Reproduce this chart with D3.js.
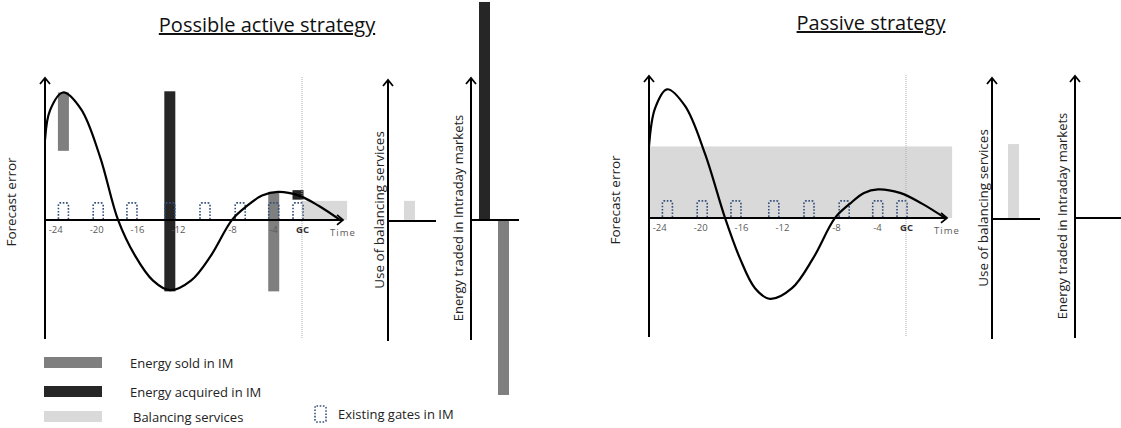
<!DOCTYPE html>
<html><head><meta charset="utf-8">
<script src="https://cdn.jsdelivr.net/npm/d3@7"></script>
<style>body{margin:0;background:#fff;} text{font-family:"Open Sans",sans-serif;}</style>
</head><body><svg id="chart" width="1121" height="428"></svg>
<script>
// ---------------- data ----------------
const tickHours = [-24, -20, -16, -12, -8, -4, 0];
const tickLabels = ["-24", "-20", "-16", "-12", "-8", "-4", "GC"];
const gateHours = [-23.2, -19.8, -16.5, -12.8, -10, -7.2, -3.9, -0.55];

const activeCurveHours = [-25, -24.51, -23.24, -21.48, -19.62, -17.86, -16.2, -14.44, -12.78, -11.04, -9.56, -8, -6.54, -5.07, -3.31, -0.41, 1.66, 3.71];
const activeCurveError = [0.67, 0.92, 1.07, 0.93, 0.53, 0, -0.30, -0.51, -0.59, -0.51, -0.30, 0, 0.117, 0.204, 0.235, 0.204, 0.117, 0];
const passiveCurveHours = [-25, -24.41, -23.24, -21.48, -19.53, -17.57, -16.11, -14.64, -13.17, -11.26, -9.7, -8.07, -6.63, -5.27, -3.86, -0.83, 1.56, 3.8];
const passiveCurveError = [0.6, 0.92, 1.08, 0.94, 0.54, 0, -0.34, -0.59, -0.68, -0.59, -0.34, 0, 0.12, 0.21, 0.24, 0.21, 0.12, 0];

const activeBarHours = [-23.2, -12.8, -3.9, -0.55];
const activeBarTop = [1.07, 1.08, 0.235, 0.25];
const activeBarBottom = [0.58, -0.6, -0.6, 0.17];
const activeBarType = ["sold", "acquired", "sold", "acquired"];

const activeBalancingHours = [0, 4.4];
const activeBalancingLevel = 0.16;
const passiveBalancingHours = [-25, 4.5];
const passiveBalancingLevel = 0.6;

const activeBalancingUse = 0.16;
const passiveBalancingUse = 0.62;
const activeTradedAcquired = 1.83;
const activeTradedSold = -1.47;

const titles = ["Possible active strategy", "Passive strategy"];
const legendLabels = ["Energy sold in IM", "Energy acquired in IM", "Balancing services"];
const legendTypes = ["sold", "acquired", "balancing"];
const gateLegendLabel = "Existing gates in IM";

// ---------------- styles ----------------
const colors = { sold: "#7f7f7f", acquired: "#262626", balancing: "#d9d9d9", gate: "#34507d" };

const svg = d3.select("#chart");
const defs = svg.append("defs");
defs.append("marker").attr("id", "arr").attr("viewBox", "-8 -6 10 12")
  .attr("refX", 0).attr("refY", 0).attr("markerWidth", 10).attr("markerHeight", 12)
  .attr("markerUnits", "userSpaceOnUse").attr("orient", "auto")
  .append("path").attr("d", "M-6,-5L0,0L-6,5").attr("fill", "none")
  .attr("stroke", "#000").attr("stroke-width", 1.8);

const H = 262;
const xs = d3.scaleLinear().domain([-25, -12, -8, -4, 0, 4]).range([0, 133, 187, 228, 257, 298]);
const ys = d3.scaleLinear().domain([-1, 1.2]).range([H, 0]);

function gatePath(cx, y0, w, h) {
  const l = cx - w / 2, r = cx + w / 2, t = y0 - h;
  return `M${l},${y0}L${l},${t + 2}Q${l},${t} ${l + 2},${t}L${r - 2},${t}Q${r},${t} ${r},${t + 2}L${r},${y0}`;
}

function drawPanel(ox, oy, cfg) {
  const g = svg.append("g").attr("transform", `translate(${ox},${oy})`);
  // title
  g.append("text").attr("x", 222).attr("y", -45).attr("text-anchor", "middle")
    .attr("font-size", 20).attr("fill", "#111").attr("text-decoration", "underline").text(cfg.title);
  // forecast error label
  g.append("text").attr("transform", `translate(-34,${125}) rotate(-90)`)
    .attr("text-anchor", "middle").attr("dy", "0.35em").attr("font-size", 13.5).attr("fill", "#222")
    .text("Forecast error");
  // balancing band
  g.append("rect").attr("x", xs(cfg.balHours[0])).attr("width", xs(cfg.balHours[1]) - xs(cfg.balHours[0]))
    .attr("y", ys(cfg.balLevel)).attr("height", ys(0) - ys(cfg.balLevel)).attr("fill", colors.balancing);
  // bars
  g.selectAll(".bar").data(cfg.barHours.map((h, i) => ({ h, top: cfg.barTop[i], bot: cfg.barBottom[i], type: cfg.barType[i] })))
    .join("rect").attr("x", d => xs(d.h) - 5.5).attr("width", 11)
    .attr("y", d => ys(d.top)).attr("height", d => ys(d.bot) - ys(d.top)).attr("fill", d => colors[d.type]);
  // gates
  g.selectAll(".gate").data(gateHours).join("path")
    .attr("d", d => gatePath(xs(d), ys(0) - 1, 10, 16))
    .attr("fill", "none").attr("stroke", colors.gate).attr("stroke-width", 1.6).attr("stroke-dasharray", "1.6,1.6");
  // GC line
  g.append("line").attr("x1", xs(0)).attr("x2", xs(0)).attr("y1", 0).attr("y2", H)
    .attr("stroke", "#b0b0b0").attr("stroke-width", 1).attr("stroke-dasharray", "1,1");
  // axes
  g.append("line").attr("x1", 0).attr("x2", 0).attr("y1", H).attr("y2", 1)
    .attr("stroke", "#000").attr("stroke-width", 2).attr("marker-end", "url(#arr)");
  g.append("line").attr("x1", 0).attr("x2", xs(4)).attr("y1", ys(0)).attr("y2", ys(0))
    .attr("stroke", "#000").attr("stroke-width", 2).attr("marker-end", "url(#arr)");
  // tick labels
  const ax = d3.axisBottom(xs).tickValues(tickHours).tickSize(0).tickPadding(6)
    .tickFormat((d, i) => tickLabels[i]);
  const axg = g.append("g").attr("transform", `translate(0,${ys(0)})`).call(ax);
  axg.select(".domain").remove();
  axg.selectAll("text").attr("font-family", "Open Sans").attr("font-size", 9.5).attr("fill", "#595959")
    .filter(d => d === 0).attr("font-weight", "bold").attr("fill", "#333");
  g.append("text").attr("x", xs(4)).attr("y", ys(0) + 16).attr("text-anchor", "middle")
    .attr("font-size", 9.5).attr("fill", "#595959").attr("letter-spacing", 1).text("Time");
  // curve
  const line = d3.line().x(d => xs(d[0])).y(d => ys(d[1])).curve(d3.curveCatmullRom.alpha(0.5));
  g.append("path").attr("d", line(cfg.curveHours.map((h, i) => [h, cfg.curveError[i]])))
    .attr("fill", "none").attr("stroke", "#000").attr("stroke-width", 2.2);

  // side panel: balancing services
  const bx = 343, ex = 426;
  g.append("line").attr("x1", bx).attr("x2", bx).attr("y1", H + 2).attr("y2", 3)
    .attr("stroke", "#000").attr("stroke-width", 2).attr("marker-end", "url(#arr)");
  g.append("rect").attr("x", bx + 16).attr("width", 11).attr("y", ys(cfg.balUse))
    .attr("height", ys(0) - ys(cfg.balUse)).attr("fill", colors.balancing);
  g.append("line").attr("x1", bx).attr("x2", bx + 48).attr("y1", ys(0) + 1).attr("y2", ys(0) + 1)
    .attr("stroke", "#000").attr("stroke-width", 2);
  g.append("text").attr("transform", `translate(${bx - 9},${133}) rotate(-90)`)
    .attr("text-anchor", "middle").attr("dy", "0.35em").attr("font-size", 13.5).attr("fill", "#222")
    .text("Use of balancing services");
  // side panel: energy traded
  g.append("line").attr("x1", ex).attr("x2", ex).attr("y1", H + 1).attr("y2", 1)
    .attr("stroke", "#000").attr("stroke-width", 2).attr("marker-end", "url(#arr)");
  if (cfg.acquired !== null) {
    g.append("rect").attr("x", ex + 8).attr("width", 11).attr("y", ys(cfg.acquired))
      .attr("height", ys(0) - ys(cfg.acquired)).attr("fill", colors.acquired);
    g.append("rect").attr("x", ex + 27).attr("width", 11).attr("y", ys(0))
      .attr("height", ys(cfg.sold) - ys(0)).attr("fill", colors.sold);
  }
  g.append("line").attr("x1", ex).attr("x2", ex + 48).attr("y1", ys(0)).attr("y2", ys(0))
    .attr("stroke", "#000").attr("stroke-width", 2);
  g.append("text").attr("transform", `translate(${ex - 13},${141}) rotate(-90)`)
    .attr("text-anchor", "middle").attr("dy", "0.35em").attr("font-size", 13).attr("fill", "#222")
    .text("Energy traded in Intraday markets");
}

drawPanel(45, 77, {
  title: titles[0], curveHours: activeCurveHours, curveError: activeCurveError,
  barHours: activeBarHours, barTop: activeBarTop, barBottom: activeBarBottom, barType: activeBarType,
  balHours: activeBalancingHours, balLevel: activeBalancingLevel, balUse: activeBalancingUse,
  acquired: activeTradedAcquired, sold: activeTradedSold
});
drawPanel(649, 75, {
  title: titles[1], curveHours: passiveCurveHours, curveError: passiveCurveError,
  barHours: [], barTop: [], barBottom: [], barType: [],
  balHours: passiveBalancingHours, balLevel: passiveBalancingLevel, balUse: passiveBalancingUse,
  acquired: null, sold: null
});

// legend
const leg = svg.append("g");
const legY = [357, 386, 411];
leg.selectAll("rect").data(legendTypes).join("rect")
  .attr("x", 44).attr("width", 58).attr("y", (d, i) => legY[i]).attr("height", 11)
  .attr("fill", d => colors[d]);
leg.selectAll("text").data(legendLabels).join("text")
  .attr("x", (d, i) => i === 2 ? 133 : 130).attr("y", (d, i) => legY[i] + 6).attr("dy", "0.35em")
  .attr("font-size", 13).attr("fill", "#222").text(d => d);
leg.append("rect").attr("x", 315).attr("y", 406).attr("width", 11).attr("height", 16).attr("rx", 1.5)
  .attr("fill", "none").attr("stroke", colors.gate).attr("stroke-width", 1.6).attr("stroke-dasharray", "1.6,1.6");
leg.append("text").attr("x", 338).attr("y", 414).attr("dy", "0.35em").attr("font-size", 13)
  .attr("fill", "#222").text(gateLegendLabel);
</script></body></html>
